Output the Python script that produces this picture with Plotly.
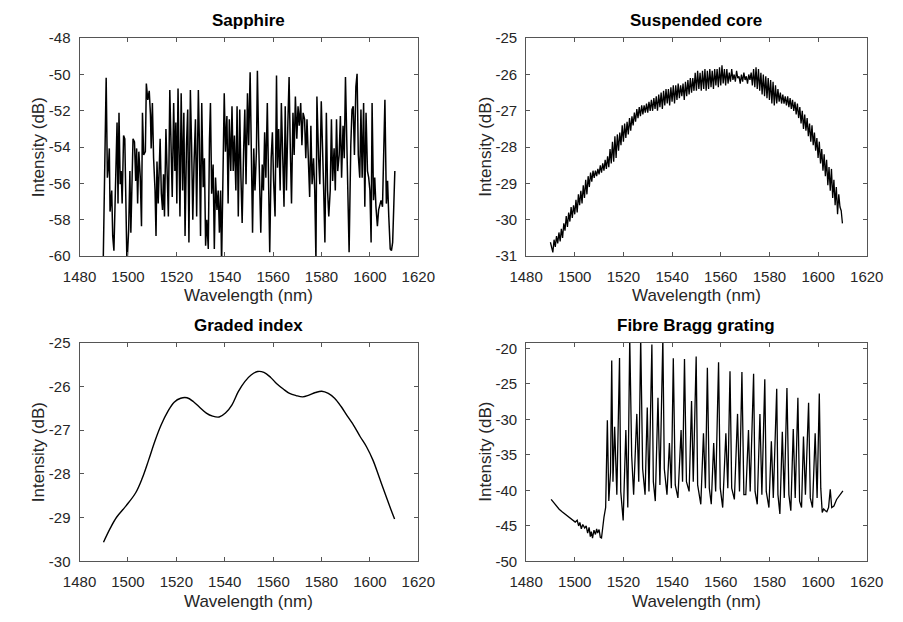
import plotly.graph_objects as go

# ---------------- Data ----------------
x_ticks = [1480, 1500, 1520, 1540, 1560, 1580, 1600, 1620]
x_ticktext = ["1480", "1500", "1520", "1540", "1560", "1580", "1600", "1620"]

sap_yticks = [-60, -58, -56, -54, -52, -50, -48]
sap_yticktext = ["-60", "-58", "-56", "-54", "-52", "-50", "-48"]
sc_yticks = [-31, -30, -29, -28, -27, -26, -25]
sc_yticktext = ["-31", "-30", "-29", "-28", "-27", "-26", "-25"]
gi_yticks = [-30, -29, -28, -27, -26, -25]
gi_yticktext = ["-30", "-29", "-28", "-27", "-26", "-25"]
fbg_yticks = [-50, -45, -40, -35, -30, -25, -20]
fbg_yticktext = ["-50", "-45", "-40", "-35", "-30", "-25", "-20"]

titles = ["Sapphire", "Suspended core", "Graded index", "Fibre Bragg grating"]
x_label = "Wavelength (nm)"
y_label = "Intensity (dB)"

sap_wl = [1489.7, 1491.0, 1491.5, 1492.0, 1492.3, 1492.6, 1493.3, 1493.7, 1494.2, 1494.6,
          1495.0, 1495.5, 1495.9, 1496.3, 1496.8, 1497.2, 1497.6, 1498.2, 1498.7, 1499.1,
          1499.6, 1500.3, 1500.8, 1501.2, 1501.6, 1502.1, 1502.7, 1503.2, 1503.6, 1504.0,
          1504.5, 1505.1, 1505.6, 1506.0, 1506.5, 1507.2, 1507.6, 1508.2, 1508.8, 1509.3,
          1509.6, 1510.1, 1510.6, 1511.2, 1511.6, 1512.0, 1512.5, 1512.9, 1513.3, 1513.8,
          1514.3, 1514.7, 1515.1, 1515.7, 1516.2, 1516.7, 1517.3, 1517.8, 1518.3, 1518.9,
          1519.4, 1519.8, 1520.2, 1520.7, 1521.1, 1521.5, 1522.0, 1522.6, 1523.1, 1523.6,
          1524.2, 1524.7, 1525.2, 1525.8, 1526.3, 1526.8, 1527.3, 1527.9, 1528.4, 1529.1,
          1529.5, 1530.0, 1530.5, 1531.1, 1531.6, 1532.1, 1532.6, 1533.2, 1533.7, 1534.1,
          1534.6, 1535.2, 1535.7, 1536.2, 1536.8, 1537.3, 1537.8, 1538.3, 1538.7, 1539.3,
          1539.8, 1540.3, 1540.9, 1541.4, 1541.9, 1542.5, 1543.0, 1543.5, 1544.0, 1544.6,
          1545.1, 1545.6, 1546.2, 1546.7, 1547.2, 1547.8, 1548.3, 1548.8, 1549.4, 1549.9,
          1550.5, 1551.0, 1551.5, 1552.0, 1552.5, 1553.1, 1553.5, 1554.0, 1554.4, 1554.9,
          1555.5, 1556.0, 1556.5, 1557.0, 1557.6, 1558.1, 1558.6, 1559.2, 1559.7, 1560.2,
          1560.8, 1561.4, 1561.8, 1562.3, 1562.9, 1563.4, 1563.9, 1564.5, 1565.0, 1565.5,
          1566.1, 1566.6, 1567.1, 1567.6, 1568.2, 1568.7, 1569.2, 1569.8, 1570.3, 1570.8,
          1571.4, 1571.9, 1572.4, 1573.0, 1573.5, 1574.0, 1574.5, 1575.1, 1575.6, 1576.1,
          1576.7, 1577.2, 1577.7, 1578.1, 1578.8, 1579.3, 1579.9, 1580.4, 1580.9, 1581.4,
          1582.0, 1582.5, 1583.0, 1583.6, 1584.1, 1584.6, 1585.2, 1585.7, 1586.2, 1586.7,
          1587.3, 1587.8, 1588.3, 1588.9, 1589.4, 1589.9, 1590.5, 1591.0, 1591.4, 1592.1,
          1592.6, 1593.1, 1593.6, 1594.2, 1594.7, 1595.2, 1595.8, 1596.3, 1596.8, 1597.4,
          1597.9, 1598.4, 1599.0, 1599.5, 1600.0, 1600.5, 1600.9, 1601.5, 1602.0, 1602.5,
          1603.1, 1603.6, 1604.1, 1604.6, 1605.2, 1605.7, 1606.2, 1606.8, 1607.3, 1607.8,
          1608.4, 1608.9, 1609.4, 1609.9, 1610.3]
sap_db = [-61.0, -50.18, -55.68, -54.96, -54.07, -57.55, -56.39, -58.89, -59.70, -57.82,
          -54.52, -52.64, -57.11, -52.11, -56.04, -55.32, -57.11, -53.36, -53.54, -56.04,
          -60.5, -58.54, -55.32, -58.71, -56.21, -53.54, -53.71, -55.86, -54.07, -57.11,
          -54.25, -55.68, -58.36, -52.11, -54.43, -54.25, -50.50, -51.40, -50.90, -52.20,
          -54.07, -51.57, -54.61, -56.39, -58.89, -54.79, -57.11, -54.61, -53.54, -56.57,
          -57.46, -55.50, -57.82, -53.00, -56.21, -57.82, -50.86, -53.89, -56.75, -51.57,
          -55.32, -52.64, -57.11, -50.77, -53.54, -57.82, -51.04, -56.39, -52.11, -58.89,
          -53.89, -51.93, -59.25, -50.86, -53.89, -58.00, -54.96, -52.46, -57.82, -50.86,
          -53.54, -58.89, -51.57, -56.21, -54.61, -59.43, -58.00, -59.61, -53.54, -51.57,
          -56.57, -54.96, -59.61, -55.68, -57.46, -56.39, -58.71, -56.39, -60.5, -56.04,
          -51.04, -54.25, -52.29, -57.11, -52.46, -55.32, -51.75, -55.32, -53.36, -56.39,
          -51.75, -57.82, -51.93, -55.68, -58.18, -54.25, -51.93, -56.04, -51.04, -53.89,
          -49.88, -54.25, -58.71, -54.07, -56.39, -54.25, -49.79, -53.54, -56.04, -58.71,
          -54.96, -56.39, -53.18, -55.68, -51.57, -56.75, -59.79, -54.61, -53.18, -55.86,
          -57.82, -50.05, -55.14, -53.00, -56.39, -51.57, -54.96, -57.29, -51.75, -56.39,
          -52.64, -50.14, -54.07, -57.11, -52.11, -54.43, -51.21, -53.54, -51.75, -52.82,
          -51.57, -53.89, -52.11, -52.46, -54.61, -52.46, -54.43, -56.75, -52.82, -56.04,
          -54.61, -56.39, -60.3, -51.21, -54.61, -56.04, -51.48, -54.79, -56.39, -59.25,
          -52.11, -56.39, -57.82, -56.39, -52.46, -55.86, -54.07, -56.39, -52.46, -55.32,
          -54.43, -52.29, -55.68, -52.82, -54.61, -50.14, -53.54, -56.39, -59.79, -53.89,
          -51.93, -51.75, -54.43, -50.68, -49.96, -54.43, -55.68, -51.93, -55.68, -51.57,
          -57.29, -52.11, -55.32, -55.68, -56.39, -59.25, -51.57, -56.93, -55.68, -57.29,
          -58.36, -57.46, -57.11, -56.93, -57.29, -54.07, -51.39, -57.11, -55.86, -57.82,
          -59.61, -59.70, -59.25, -57.11, -55.32]

sc_wl = [1490.0, 1490.5, 1491.0, 1491.5, 1492.0, 1492.5, 1493.0, 1493.5, 1494.0, 1494.5,
         1495.0, 1495.5, 1496.0, 1496.5, 1497.0, 1497.5, 1498.0, 1498.5, 1499.0, 1499.5,
         1500.0, 1500.5, 1501.0, 1501.5, 1502.0, 1502.5, 1503.0, 1503.5, 1504.0, 1504.5,
         1505.0, 1505.5, 1506.0, 1506.5, 1507.0, 1507.5, 1508.0, 1508.5, 1509.0, 1509.5,
         1510.0, 1510.5, 1511.0, 1511.5, 1512.0, 1512.5, 1513.0, 1513.5, 1514.0, 1514.5,
         1515.0, 1515.5, 1516.0, 1516.5, 1517.0, 1517.5, 1518.0, 1518.5, 1519.0, 1519.5,
         1520.0, 1520.5, 1521.0, 1521.5, 1522.0, 1522.5, 1523.0, 1523.5, 1524.0, 1524.5,
         1525.0, 1525.5, 1526.0, 1526.5, 1527.0, 1527.5, 1528.0, 1528.5, 1529.0, 1529.5,
         1530.0, 1530.5, 1531.0, 1531.5, 1532.0, 1532.5, 1533.0, 1533.5, 1534.0, 1534.5,
         1535.0, 1535.5, 1536.0, 1536.5, 1537.0, 1537.5, 1538.0, 1538.5, 1539.0, 1539.5,
         1540.0, 1540.5, 1541.0, 1541.5, 1542.0, 1542.5, 1543.0, 1543.5, 1544.0, 1544.5,
         1545.0, 1545.5, 1546.0, 1546.5, 1547.0, 1547.5, 1548.0, 1548.5, 1549.0, 1549.5,
         1550.0, 1550.5, 1551.0, 1551.5, 1552.0, 1552.5, 1553.0, 1553.5, 1554.0, 1554.5,
         1555.0, 1555.5, 1556.0, 1556.5, 1557.0, 1557.5, 1558.0, 1558.5, 1559.0, 1559.5,
         1560.0, 1560.5, 1561.0, 1561.5, 1562.0, 1562.5, 1563.0, 1563.5, 1564.0, 1564.5,
         1565.0, 1565.5, 1566.0, 1566.5, 1567.0, 1567.5, 1568.0, 1568.5, 1569.0, 1569.5,
         1570.0, 1570.5, 1571.0, 1571.5, 1572.0, 1572.5, 1573.0, 1573.5, 1574.0, 1574.5,
         1575.0, 1575.5, 1576.0, 1576.5, 1577.0, 1577.5, 1578.0, 1578.5, 1579.0, 1579.5,
         1580.0, 1580.5, 1581.0, 1581.5, 1582.0, 1582.5, 1583.0, 1583.5, 1584.0, 1584.5,
         1585.0, 1585.5, 1586.0, 1586.5, 1587.0, 1587.5, 1588.0, 1588.5, 1589.0, 1589.5,
         1590.0, 1590.5, 1591.0, 1591.5, 1592.0, 1592.5, 1593.0, 1593.5, 1594.0, 1594.5,
         1595.0, 1595.5, 1596.0, 1596.5, 1597.0, 1597.5, 1598.0, 1598.5, 1599.0, 1599.5,
         1600.0, 1600.5, 1601.0, 1601.5, 1602.0, 1602.5, 1603.0, 1603.5, 1604.0, 1604.5,
         1605.0, 1605.5, 1606.0, 1606.5, 1607.0, 1607.5, 1608.0, 1608.5, 1609.0, 1609.5,
         1610.0]
sc_db = [-30.62, -30.80, -30.90, -30.55, -30.75, -30.45, -30.65, -30.35, -30.60, -30.25,
         -30.50, -30.10, -30.30, -29.90, -30.20, -29.80, -30.05, -29.65, -29.95, -29.60,
         -29.85, -29.45, -29.80, -29.30, -29.60, -29.20, -29.55, -29.05, -29.40, -28.90,
         -29.30, -28.80, -29.10, -28.70, -28.95, -28.65, -28.85, -28.65, -28.80, -28.60,
         -28.75, -28.50, -28.70, -28.45, -28.65, -28.35, -28.60, -28.25, -28.55, -28.05,
         -28.45, -27.85, -28.40, -27.70, -28.30, -27.65, -28.10, -27.60, -27.95, -27.40,
         -27.85, -27.35, -27.75, -27.30, -27.65, -27.20, -27.55, -27.15, -27.40, -27.05,
         -27.30, -26.95, -27.20, -26.90, -27.15, -26.85, -27.10, -26.85, -27.05, -26.80,
         -27.05, -26.75, -27.00, -26.70, -27.00, -26.65, -26.95, -26.60, -27.00, -26.55,
         -26.90, -26.50, -26.95, -26.45, -26.85, -26.40, -26.80, -26.40, -26.85, -26.35,
         -26.75, -26.30, -26.80, -26.30, -26.70, -26.25, -26.65, -26.30, -26.60, -26.25,
         -26.70, -26.20, -26.60, -26.15, -26.55, -26.10, -26.50, -26.10, -26.45, -25.95,
         -26.45, -25.90, -26.40, -25.95, -26.45, -25.90, -26.40, -25.85, -26.45, -25.90,
         -26.40, -25.85, -26.35, -25.90, -26.40, -25.85, -26.30, -25.85, -26.35, -25.80,
         -26.30, -25.75, -26.25, -25.85, -26.30, -25.85, -26.25, -25.95, -26.20, -25.85,
         -26.15, -26.00, -26.20, -25.90, -26.10, -26.05, -26.25, -26.00, -26.20, -25.95,
         -26.15, -26.05, -26.25, -26.00, -26.15, -25.95, -26.30, -25.85, -26.35, -25.80,
         -26.40, -25.85, -26.45, -25.95, -26.55, -26.00, -26.60, -26.05, -26.65, -26.10,
         -26.70, -26.15, -26.80, -26.20, -26.85, -26.30, -26.80, -26.40, -26.75, -26.50,
         -26.80, -26.55, -26.80, -26.60, -26.85, -26.60, -26.90, -26.65, -26.95, -26.70,
         -27.00, -26.75, -27.10, -26.80, -27.20, -26.90, -27.35, -27.00, -27.50, -27.10,
         -27.55, -27.20, -27.70, -27.35, -27.85, -27.40, -27.95, -27.60, -28.10, -27.75,
         -28.30, -27.85, -28.45, -28.05, -28.65, -28.20, -28.80, -28.35, -29.05, -28.55,
         -29.20, -28.60, -29.40, -28.90, -29.60, -29.10, -29.85, -29.30, -29.65, -29.75,
         -30.10]

gi_wl = [1489.9, 1492.6, 1495.3, 1499.2, 1503.2, 1505.9, 1508.5, 1511.2, 1513.8, 1516.5,
         1519.1, 1521.8, 1524.4, 1527.1, 1529.7, 1532.4, 1535.0, 1537.7, 1540.3, 1543.0,
         1545.6, 1548.3, 1550.9, 1553.6, 1556.2, 1558.9, 1561.5, 1564.2, 1566.8, 1569.5,
         1572.2, 1574.8, 1577.5, 1580.1, 1582.8, 1585.4, 1588.1, 1590.7, 1593.4, 1596.0,
         1598.7, 1601.3, 1604.0, 1606.6, 1608.6, 1610.2]
gi_db = [-29.56, -29.25, -28.99, -28.73, -28.43, -28.10, -27.69, -27.24, -26.87, -26.57,
         -26.36, -26.27, -26.26, -26.35, -26.48, -26.61, -26.68, -26.70, -26.61, -26.42,
         -26.12, -25.89, -25.74, -25.66, -25.68, -25.79, -25.94, -26.06, -26.16, -26.21,
         -26.24, -26.20, -26.14, -26.11, -26.16, -26.27, -26.46, -26.68, -26.90, -27.15,
         -27.39, -27.69, -28.10, -28.50, -28.80, -29.03]

fbg_wl = [1490.3, 1491.5, 1492.6, 1493.6, 1494.8, 1496.0, 1497.5, 1498.8, 1500.2, 1501.0,
          1501.6, 1502.1, 1502.7, 1503.3, 1504.1, 1504.7, 1505.3, 1505.9, 1506.4, 1506.8,
          1507.3, 1507.9, 1508.5, 1509.0, 1509.4, 1510.0, 1510.5, 1511.0, 1511.5, 1512.0,
          1512.7, 1513.4, 1514.0, 1514.7, 1515.2, 1515.7, 1516.4, 1517.3, 1518.4, 1518.9,
          1519.9, 1521.0, 1521.8, 1522.6, 1523.4, 1524.2, 1525.5, 1526.3, 1527.1, 1527.9,
          1528.9, 1529.8, 1530.5, 1531.7, 1532.3, 1533.1, 1534.2, 1535.0, 1536.2, 1536.8,
          1537.9, 1538.9, 1539.7, 1540.5, 1541.3, 1542.4, 1543.7, 1544.3, 1545.1, 1545.9,
          1547.0, 1548.0, 1548.7, 1549.9, 1550.5, 1551.8, 1552.9, 1553.7, 1554.5, 1555.3,
          1556.1, 1557.1, 1557.9, 1559.1, 1559.8, 1560.8, 1562.1, 1562.9, 1563.8, 1564.5,
          1565.6, 1566.9, 1567.7, 1568.7, 1569.5, 1570.3, 1571.4, 1572.1, 1573.5, 1574.1,
          1575.0, 1576.1, 1576.9, 1578.1, 1578.7, 1579.8, 1580.8, 1581.6, 1583.0, 1583.5,
          1584.3, 1585.3, 1586.1, 1587.2, 1588.0, 1588.8, 1589.8, 1590.6, 1591.7, 1592.4,
          1593.2, 1594.0, 1594.8, 1596.1, 1596.8, 1597.7, 1598.8, 1599.6, 1600.5, 1601.1,
          1601.7, 1602.3, 1603.0, 1603.6, 1604.3, 1605.0, 1605.6, 1606.5, 1607.6, 1608.9,
          1610.2]
fbg_db = [-41.27, -41.80, -42.30, -42.64, -43.00, -43.30, -43.77, -44.10, -44.45, -44.20,
          -45.00, -44.50, -45.40, -44.80, -45.30, -45.00, -46.00, -45.20, -46.50, -45.80,
          -46.70, -45.60, -46.20, -45.40, -46.00, -45.50, -46.60, -46.70, -45.00, -43.80,
          -42.40, -30.14, -41.50, -37.41, -21.73, -38.77, -31.05, -40.59, -21.36, -40.14,
          -44.23, -31.50, -42.41, -18.50, -35.14, -40.59, -29.23, -38.77, -18.50, -36.95,
          -40.59, -28.32, -40.14, -19.45, -38.77, -41.50, -26.95, -39.23, -18.50, -36.95,
          -40.59, -33.32, -39.68, -21.41, -39.23, -41.05, -31.50, -38.77, -21.50, -38.77,
          -40.14, -27.41, -38.77, -21.14, -39.23, -41.95, -31.95, -39.68, -22.73, -39.68,
          -41.95, -33.32, -40.14, -21.95, -39.68, -42.41, -31.95, -39.68, -23.23, -39.68,
          -41.27, -29.23, -40.14, -23.32, -40.59, -40.59, -31.50, -40.14, -23.59, -40.14,
          -41.95, -29.23, -40.59, -24.36, -40.14, -42.41, -33.09, -41.05, -25.68, -40.59,
          -43.32, -31.73, -41.05, -25.59, -40.59, -42.86, -31.36, -41.05, -26.95, -41.50,
          -42.41, -32.41, -40.59, -27.68, -41.05, -42.41, -31.95, -41.05, -26.36, -39.68,
          -43.09, -42.60, -42.86, -43.00, -42.41, -39.86, -42.41, -42.20, -41.27, -40.59,
          -40.05]

assert len(sap_wl) == len(sap_db), (len(sap_wl), len(sap_db))
assert len(sc_wl) == len(sc_db), (len(sc_wl), len(sc_db))
assert len(gi_wl) == len(gi_db)
assert len(fbg_wl) == len(fbg_db), (len(fbg_wl), len(fbg_db))

# ---------------- Figure ----------------
W, H = 903, 622
FONT = "Liberation Sans, Arial, Helvetica, sans-serif"
TXT = "#262626"
AX = "#555555"

# plot-area pixel boxes: (left, right, top, bottom)
boxes = [(65, 417, 30, 254), (529, 883, 30, 254), (65, 417, 343, 568), (529, 883, 343, 568)]

def xdom(b):
    return [b[0] / W, b[1] / W]

def ydom(b):
    return [(H - b[3]) / H, (H - b[2]) / H]

fig = go.Figure()
series = [(sap_wl, sap_db, "linear", 1.5), (sc_wl, sc_db, "linear", 1.3),
          (gi_wl, gi_db, "spline", 1.4), (fbg_wl, fbg_db, "linear", 1.3)]
for i, (xs, ys, shape, lw) in enumerate(series):
    sfx = "" if i == 0 else str(i + 1)
    fig.add_trace(go.Scatter(x=xs, y=ys, mode="lines", xaxis="x" + sfx, yaxis="y" + sfx,
                             line=dict(color="black", width=lw, shape=shape),
                             showlegend=False, hoverinfo="skip"))

yinfo = [([-60, -48], sap_yticks, sap_yticktext),
         ([-31, -25], sc_yticks, sc_yticktext),
         ([-30, -25], gi_yticks, gi_yticktext),
         ([-50, -19.2], fbg_yticks, fbg_yticktext)]

common = dict(showline=True, linecolor=AX, linewidth=1, mirror="ticks", ticks="inside",
              ticklen=4, tickcolor=AX, tickwidth=1, showgrid=False, zeroline=False,
              tickfont=dict(family=FONT, size=15, color=TXT))
layout_axes = {}
for i, b in enumerate(boxes):
    sfx = "" if i == 0 else str(i + 1)
    layout_axes["xaxis" + sfx] = dict(common, domain=xdom(b), range=[1480, 1620],
                                      tickmode="array", tickvals=x_ticks, ticktext=x_ticktext,
                                      anchor="y" + sfx, ticklabelstandoff=7)
    yr, yt, ytt = yinfo[i]
    layout_axes["yaxis" + sfx] = dict(common, domain=ydom(b), range=yr,
                                      tickmode="array", tickvals=yt, ticktext=ytt,
                                      anchor="x" + sfx, ticklabelstandoff=5)

annotations = []
for i, b in enumerate(boxes):
    cx = (b[0] + b[1]) / 2 / W
    cy = (H - (b[2] + b[3]) / 2) / H
    annotations.append(dict(text="<b>" + titles[i] + "</b>", x=cx, y=(H - (b[2] - 18)) / H,
                            xref="paper", yref="paper", showarrow=False, xanchor="center",
                            yanchor="middle", font=dict(family=FONT, size=17, color="black")))
    annotations.append(dict(text=x_label, x=cx, y=(H - (b[3] + 41)) / H,
                            xref="paper", yref="paper", showarrow=False, xanchor="center",
                            yanchor="middle", font=dict(family=FONT, size=17, color=TXT)))
    annotations.append(dict(text=y_label, x=(b[0] - 43) / W, y=cy, textangle=-90,
                            xref="paper", yref="paper", showarrow=False, xanchor="center",
                            yanchor="middle", font=dict(family=FONT, size=17, color=TXT)))

fig.update_layout(width=W, height=H, margin=dict(l=0, r=0, t=0, b=0),
                  paper_bgcolor="white", plot_bgcolor="white",
                  annotations=annotations, **layout_axes)

fig.write_html("out.html")
